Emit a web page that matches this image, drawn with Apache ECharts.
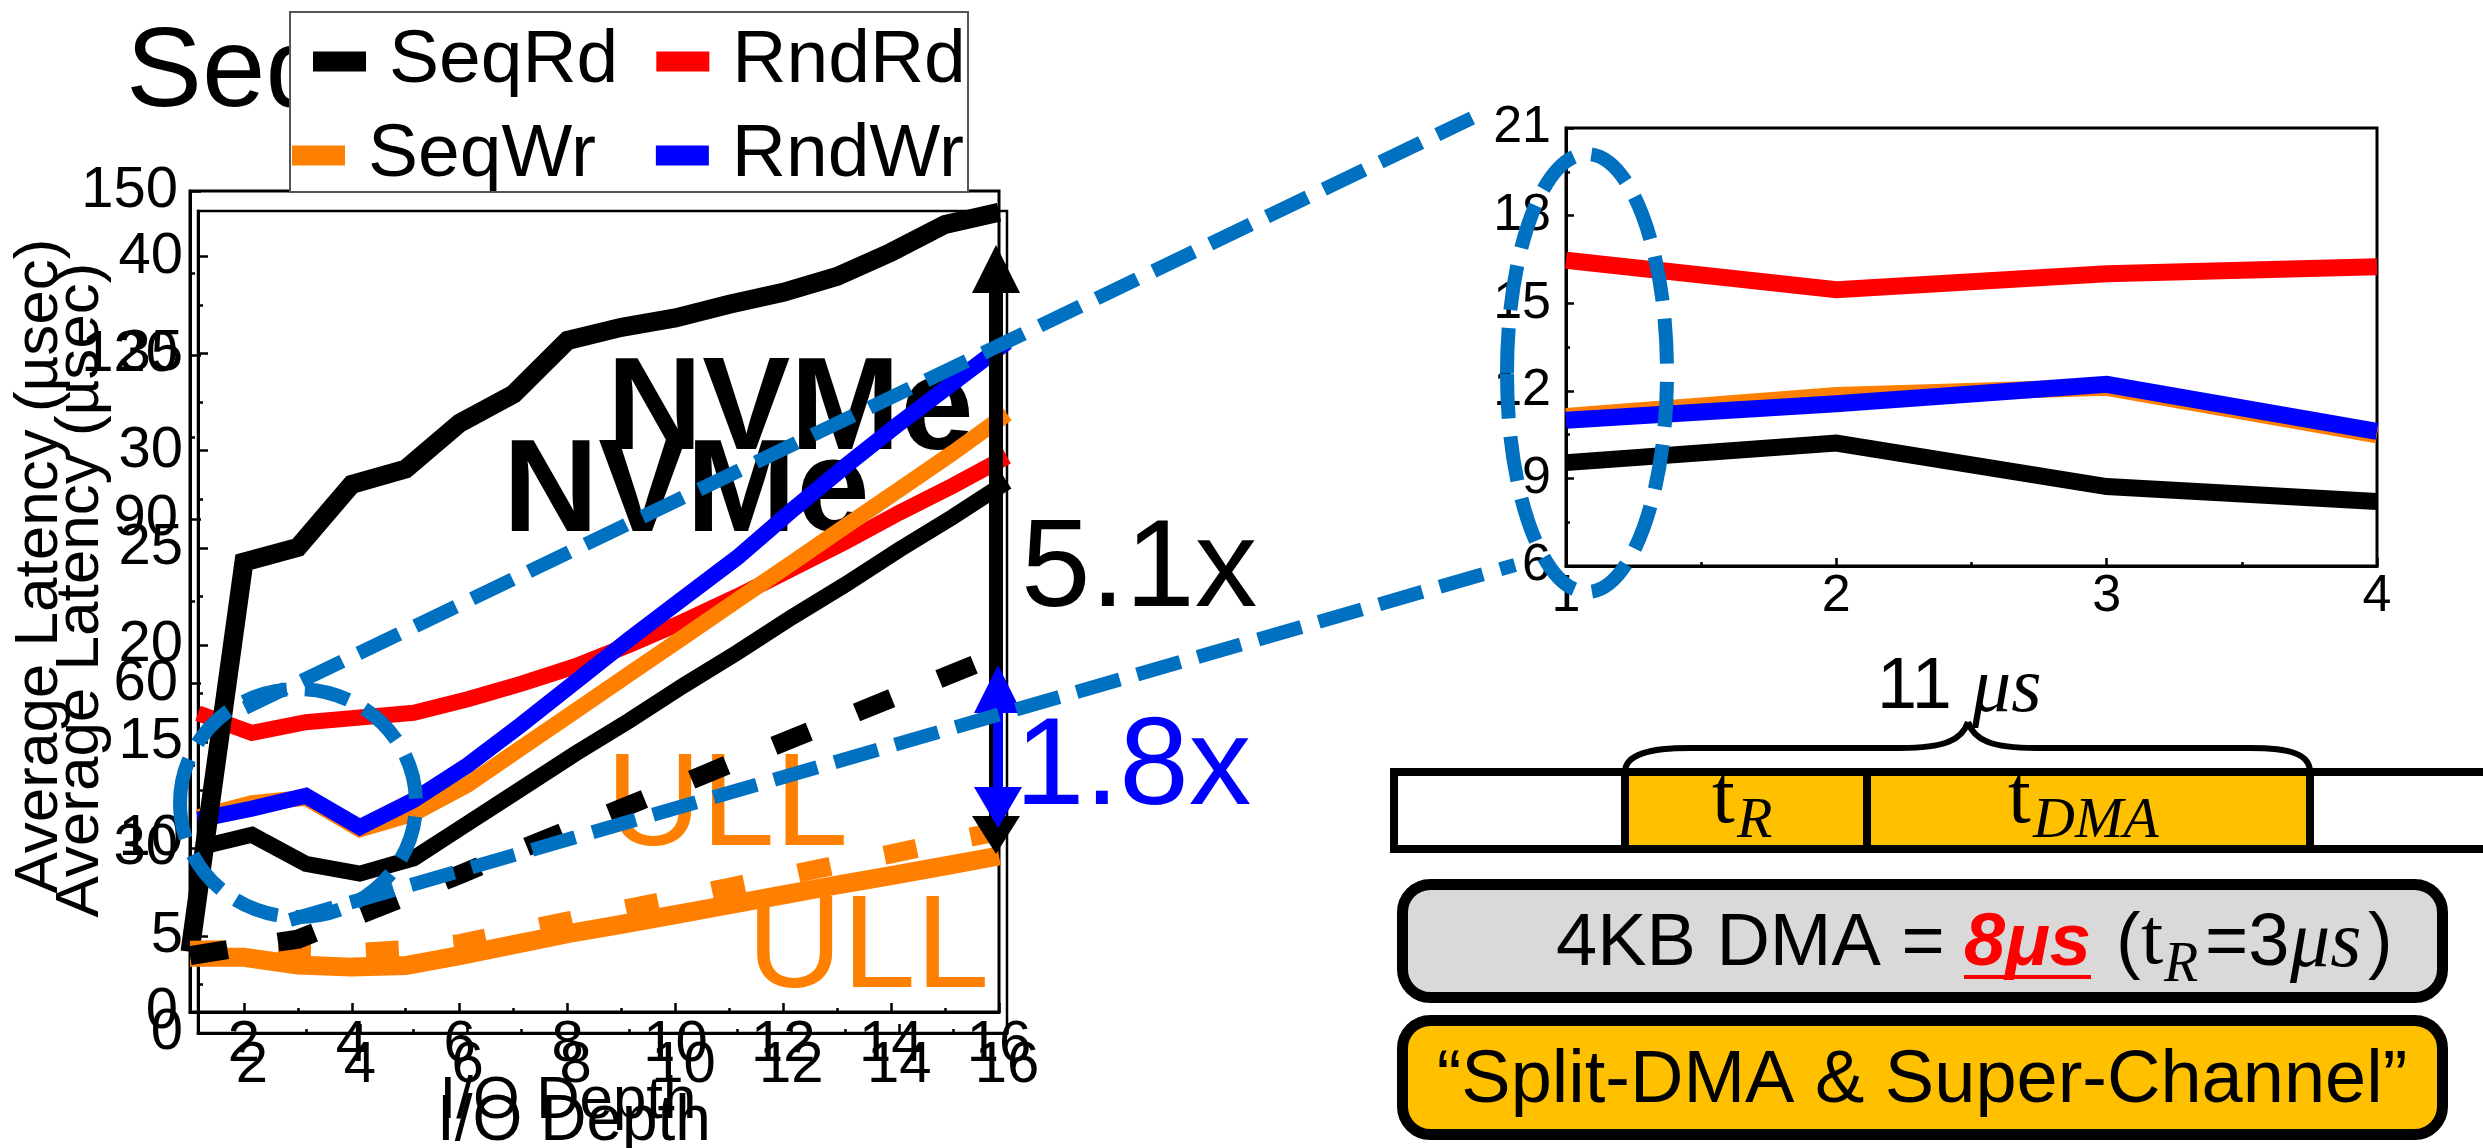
<!DOCTYPE html>
<html>
<head>
<meta charset="utf-8">
<script src="https://cdn.jsdelivr.net/npm/echarts@6/dist/echarts.min.js"></script>
<style>
  html, body { margin: 0; padding: 0; background: #fff; }
  #chart { width: 2483px; height: 1148px; }
</style>
</head>
<body>
<div id="chart"></div>
<script>
// ---- data -------------------------------------------------------------
// I/O queue depth
const depth = [1, 2, 3, 4, 5, 6, 7, 8, 9, 10, 11, 12, 13, 14, 15, 16];

// Upper frame (latency scale 0-150 µs)
const seqRdHigh   = [11.0, 82.2, 84.9, 96.4, 99.2, 107.6, 112.9, 122.7, 125.1, 126.8, 129.3, 131.5, 134.4, 138.8, 143.9, 146.1];
const seqWrLow    = [10.0, 10.0, 8.6, 8.2, 8.5, 10.3, 12.3, 14.3, 16.0, 17.8, 19.6, 21.4, 23.2, 24.9, 26.7, 28.5];
const seqWrLowDsh = [11.3, 11.4, 10.9, 10.8, 11.4, 12.5, 14.6, 16.6, 18.7, 20.7, 22.8, 24.8, 26.9, 28.9, 31.0, 33.0];
const seqRdLowDsh = [10.3, 11.9, 13.3, 17.2, 21.1, 25.1, 29.2, 33.2, 37.2, 41.2, 45.3, 49.3, 53.3, 57.3, 61.3, 65.3];

// Lower frame (latency scale 0-42 µs)
const seqRd = [9.54, 10.21, 8.72, 8.21, 9.0, 10.8, 12.6, 14.4, 16.1, 17.9, 19.6, 21.4, 23.1, 24.9, 26.6, 28.4];
const rndRd = [16.47, 15.46, 16.01, 16.25, 16.5, 17.2, 18.0, 18.9, 20.0, 21.2, 22.5, 23.9, 25.3, 26.8, 28.2, 29.7];
const seqWr = [11.12, 11.84, 12.12, 10.49, 11.3, 12.8, 14.7, 16.6, 18.5, 20.4, 22.3, 24.2, 26.1, 28.0, 29.9, 31.9];
const rndWr = [10.99, 11.56, 12.22, 10.61, 12.0, 13.8, 15.9, 18.1, 20.3, 22.4, 24.5, 26.9, 29.2, 31.4, 33.5, 35.6];

// tick labels
const depthTicks   = [2, 4, 6, 8, 10, 12, 14, 16];
const depthMinor   = [3, 5, 7, 9, 11, 13, 15];
const latTicksHigh = [0, 30, 60, 90, 120, 150];
const latMinorHigh = [15, 45, 75, 105, 135];
const latTicksLow  = [0, 5, 10, 15, 20, 25, 30, 35, 40];
const latMinorLow  = [2.5, 7.5, 12.5, 17.5, 22.5, 27.5, 32.5, 37.5];
const zoomDepth      = [1, 2, 3, 4];
const zoomDepthMinor = [1.5, 2.5, 3.5];
const zoomLatTicks   = [6, 9, 12, 15, 18, 21];
const zoomLatMinor   = [7.5, 10.5, 13.5, 16.5, 19.5];

// ---- helpers ----------------------------------------------------------
const SANS = 'Liberation Sans';
const SERIF = 'Liberation Serif';
const BLACK = '#000000', RED = '#FF0000', ORANGE = '#FF8000', BLUE = '#0000FF';
const CALLOUT = '#0070C0', GOLD = '#FFC000';

function axis(dim, o) {
  const pos = dim === 'x' ? 'bottom' : 'left';
  return {
    type: 'value', position: pos, gridIndex: o.grid, min: o.min, max: o.max,
    splitLine: { show: false },
    axisLine: { show: !o.minor, onZero: false, lineStyle: { color: BLACK, width: 3 } },
    axisTick: { show: true, inside: true, length: o.tick, customValues: o.ticks,
                lineStyle: { color: BLACK, width: 2.5 } },
    axisLabel: o.minor ? { show: false } : {
      show: true, customValues: o.ticks, color: BLACK, fontFamily: SANS,
      fontSize: o.font, margin: o.margin
    }
  };
}

function line(name, color, xs, ys, axisIdx, width, dash) {
  return {
    type: 'line', name: name,
    xAxisIndex: axisIdx, yAxisIndex: axisIdx,
    data: xs.map((x, i) => [x, ys[i]]),
    symbol: 'none', clip: false, silent: true,
    itemStyle: { color: color },
    lineStyle: { color: color, width: width, type: dash || 'solid', cap: 'butt', join: 'miter', miterLimit: 3 },
    emphasis: { disabled: true }
  };
}

function txt(x, y, text, font, fill, opts) {
  opts = opts || {};
  return {
    type: 'text', x: x, y: y, z: opts.z || 10, rotation: opts.rotation || 0, silent: true,
    style: { text: text, font: font, fill: fill || BLACK, align: opts.align || 'left', verticalAlign: 'middle' }
  };
}

function tri(pts, color) {
  return { type: 'polygon', z: 10, silent: true, shape: { points: pts }, style: { fill: color } };
}

function seg(x1, y1, x2, y2, color, w, dash, z) {
  return { type: 'line', z: z || 10, silent: true, shape: { x1: x1, y1: y1, x2: x2, y2: y2 },
           style: { stroke: color, lineWidth: w, lineDash: dash || null } };
}

function curve(x1, y1, c1x, c1y, c2x, c2y, x2, y2) {
  return { type: 'bezierCurve', z: 10, silent: true,
           shape: { x1: x1, y1: y1, cpx1: c1x, cpy1: c1y, cpx2: c2x, cpy2: c2y, x2: x2, y2: y2 },
           style: { fill: 'none', stroke: BLACK, lineWidth: 6 } };
}

const zd = zoomDepth.length;

// ---- option -----------------------------------------------------------
const option = {
  animation: false,
  backgroundColor: '#ffffff',
  grid: [
    { left: 190, top: 191, width: 809, height: 821, show: true, borderColor: BLACK, borderWidth: 3 },
    { left: 198, top: 211, width: 809, height: 822, show: true, borderColor: BLACK, borderWidth: 2.5 },
    { left: 1566, top: 128, width: 811, height: 438, show: true, borderColor: BLACK, borderWidth: 3 }
  ],
  xAxis: [
    axis('x', { grid: 0, min: 1, max: 16, ticks: depthTicks, tick: 9, font: 58, margin: 4 }),
    axis('x', { grid: 0, min: 1, max: 16, ticks: depthMinor, tick: 4, minor: true }),
    axis('x', { grid: 1, min: 1, max: 16, ticks: depthTicks, tick: 9, font: 58, margin: 4 }),
    axis('x', { grid: 1, min: 1, max: 16, ticks: depthMinor, tick: 4, minor: true }),
    axis('x', { grid: 2, min: 1, max: 4, ticks: zoomDepth, tick: 8, font: 52, margin: 5 }),
    axis('x', { grid: 2, min: 1, max: 4, ticks: zoomDepthMinor, tick: 4, minor: true })
  ],
  yAxis: [
    axis('y', { grid: 0, min: 0, max: 150, ticks: latTicksHigh, tick: 11, font: 58, margin: 12 }),
    axis('y', { grid: 0, min: 0, max: 150, ticks: latMinorHigh, tick: 5, minor: true }),
    axis('y', { grid: 1, min: 0, max: 42.35, ticks: latTicksLow, tick: 10, font: 58, margin: 15 }),
    axis('y', { grid: 1, min: 0, max: 42.35, ticks: latMinorLow, tick: 5, minor: true }),
    axis('y', { grid: 2, min: 6, max: 21, ticks: zoomLatTicks, tick: 8, font: 52, margin: 15 }),
    axis('y', { grid: 2, min: 6, max: 21, ticks: zoomLatMinor, tick: 4, minor: true })
  ],
  legend: [
    { left: 313, top: 24, padding: 0, z: 5, selectedMode: false, icon: 'rect',
      itemWidth: 53, itemHeight: 20, itemGap: 38, data: ['SeqRd', 'RndRd'],
      itemStyle: { borderWidth: 0 },
      textStyle: { color: BLACK, fontFamily: SANS, fontSize: 75, padding: [0, 0, 36, 18] } },
    { left: 292, top: 118, padding: 0, z: 5, selectedMode: false, icon: 'rect',
      itemWidth: 53, itemHeight: 20, itemGap: 60, data: ['SeqWr', 'RndWr'],
      itemStyle: { borderWidth: 0 },
      textStyle: { color: BLACK, fontFamily: SANS, fontSize: 75, padding: [0, 0, 36, 18] } }
  ],
  series: [
    // lower frame
    line('RndRd', RED, depth, rndRd, 2, 16),
    line('SeqWr', ORANGE, depth, seqWr, 2, 16),
    line('RndWr', BLUE, depth, rndWr, 2, 16),
    line('SeqRd', BLACK, depth, seqRd, 2, 16),
    // upper frame
    line('SeqRd', BLACK, depth, seqRdHigh, 0, 19),
    line('SeqWr', ORANGE, depth, seqWrLow, 0, 19),
    line('SeqWr', ORANGE, depth, seqWrLowDsh, 0, 19, [33, 55]),
    line('SeqRd', BLACK, depth, seqRdLowDsh, 0, 19, [38, 51]),
    // zoomed view of depths 1-4
    line('RndRd', RED, zoomDepth, rndRd.slice(0, zd), 4, 17),
    line('SeqWr', ORANGE, zoomDepth, seqWr.slice(0, zd), 4, 17),
    line('RndWr', BLUE, zoomDepth, rndWr.slice(0, zd), 4, 17),
    line('SeqRd', BLACK, zoomDepth, seqRd.slice(0, zd), 4, 17)
  ],
  graphic: [
    // partially hidden title and the legend box on top of it
    txt(126, 75, 'Seq', '114px ' + SANS, BLACK, { z: 1 }),
    { type: 'rect', z: 3, silent: true, shape: { x: 290, y: 12, width: 678, height: 180 },
      style: { fill: '#ffffff', stroke: '#555555', lineWidth: 2 } },

    // axis titles
    txt(40, 566, 'Average Latency (µsec)', '62px ' + SANS, BLACK, { rotation: Math.PI / 2, align: 'center' }),
    txt(81, 590, 'Average Latency (µsec)', '62px ' + SANS, BLACK, { rotation: Math.PI / 2, align: 'center' }),
    txt(568, 1101, 'I/O Depth', '60px ' + SANS, BLACK, { align: 'center' }),
    txt(574, 1122, 'I/O Depth', '64px ' + SANS, BLACK, { align: 'center' }),

    // device labels (under the lines)
    txt(607, 413, 'NVMe', 'bold 132px ' + SANS, BLACK, { z: 1 }),
    txt(503, 495, 'NVMe', 'bold 132px ' + SANS, BLACK, { z: 1 }),
    txt(606, 809, 'ULL', '132px ' + SANS, ORANGE, { z: 1 }),
    txt(747, 951, 'ULL', '132px ' + SANS, ORANGE, { z: 1 }),

    // ratio arrows
    seg(996, 285, 996, 822, BLACK, 14),
    tri([[996, 245], [972, 293], [1020, 293]], BLACK),
    tri([[996, 854], [972, 816], [1020, 816]], BLACK),
    seg(998, 708, 998, 792, BLUE, 10),
    tri([[998, 665], [974, 713], [1022, 713]], BLUE),
    tri([[998, 828], [974, 787], [1022, 787]], BLUE),
    txt(1021, 572, '5.1x', '125px ' + SANS, BLACK),
    txt(1015, 770, '1.8x', '125px ' + SANS, BLUE),

    // zoom call-out
    { type: 'ellipse', z: 11, silent: true, shape: { cx: 298, cy: 803, rx: 118, ry: 114 },
      style: { fill: 'none', stroke: CALLOUT, lineWidth: 14, lineDash: [45, 18] } },
    { type: 'ellipse', z: 11, silent: true, shape: { cx: 1587, cy: 373, rx: 80, ry: 219 },
      style: { fill: 'none', stroke: CALLOUT, lineWidth: 14, lineDash: [45, 18] } },
    seg(245, 708, 1472, 118, CALLOUT, 14, [45, 18], 11),
    seg(290, 920, 1515, 565, CALLOUT, 14, [45, 18], 11),

    // read timeline with brace
    curve(1625, 772, 1625, 754, 1650, 748, 1690, 748),
    seg(1690, 748, 1900, 748, BLACK, 6),
    curve(1900, 748, 1945, 748, 1962, 740, 1968, 722),
    curve(1968, 722, 1974, 740, 1991, 748, 2036, 748),
    seg(2036, 748, 2250, 748, BLACK, 6),
    curve(2250, 748, 2290, 748, 2310, 754, 2310, 772),
    txt(1877, 688, '11', '72px ' + SANS),
    txt(1972, 690, 'μs', 'italic 78px ' + SERIF),
    { type: 'rect', z: 10, silent: true, shape: { x: 1394, y: 772, width: 1100, height: 77 },
      style: { fill: '#ffffff', stroke: BLACK, lineWidth: 8 } },
    { type: 'rect', z: 10, silent: true, shape: { x: 1625, y: 772, width: 242, height: 77 },
      style: { fill: GOLD, stroke: BLACK, lineWidth: 8 } },
    { type: 'rect', z: 10, silent: true, shape: { x: 1867, y: 772, width: 443, height: 77 },
      style: { fill: GOLD, stroke: BLACK, lineWidth: 8 } },
    txt(1712, 800, 't', '82px ' + SERIF),
    txt(1737, 822, 'R', 'italic 58px ' + SERIF),
    txt(2008, 800, 't', '82px ' + SERIF),
    txt(2033, 822, 'DMA', 'italic 58px ' + SERIF),

    // DMA note
    { type: 'rect', z: 10, silent: true, shape: { x: 1402.5, y: 884.5, width: 1040, height: 113, r: 28 },
      style: { fill: '#D9D9D9', stroke: BLACK, lineWidth: 11 } },
    txt(1556, 945, '4KB DMA =', '74px ' + SANS),
    txt(1964, 945, '8μs', 'italic bold 74px ' + SANS, RED),
    { type: 'rect', z: 10, silent: true, shape: { x: 1964, y: 975, width: 127, height: 4 }, style: { fill: RED } },
    txt(2116, 945, '(', '74px ' + SANS),
    txt(2141, 942, 't', '80px ' + SERIF),
    txt(2164, 966, 'R', 'italic 56px ' + SERIF),
    txt(2205, 945, '=3', '74px ' + SANS),
    txt(2290, 945, 'μs', 'italic 80px ' + SERIF),
    txt(2368, 945, ')', '74px ' + SANS),

    // technique box
    { type: 'rect', z: 10, silent: true, shape: { x: 1402.5, y: 1020.5, width: 1040, height: 114, r: 28 },
      style: { fill: GOLD, stroke: BLACK, lineWidth: 11 } },
    txt(1922, 1082, '“Split-DMA & Super-Channel”', '74px ' + SANS, BLACK, { align: 'center' })
  ]
};

const chart = echarts.init(document.getElementById('chart'), null, { renderer: 'canvas' });
chart.setOption(option);
</script>
</body>
</html>
